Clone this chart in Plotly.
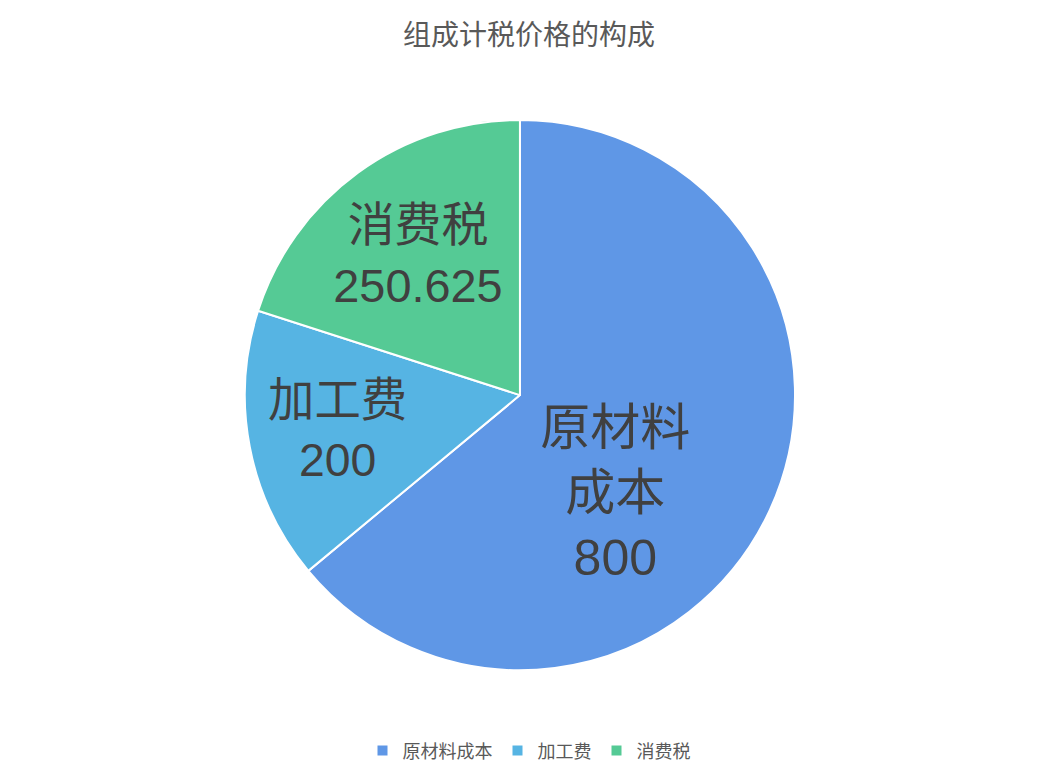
import plotly.graph_objects as go

categories = ["原材料成本", "加工费", "消费税"]
label_text = [" <br> <br> <br>原材料<br>成本", "加工费", "消费税"]
values = [800, 200, 250.625]
value_text = ["800", "200", "250.625"]
colors = ["#5F97E6", "#56B4E3", "#55CA95"]

fig = go.Figure(go.Pie(
    labels=categories,
    values=values,
    customdata=[[l, v] for l, v in zip(label_text, value_text)],
    texttemplate="%{customdata[0]}<br>%{customdata[1]}",
    textposition="inside",
    insidetextorientation="horizontal",
    textfont=dict(size=50, color="#404040"),
    marker=dict(colors=colors, line=dict(color="white", width=2)),
    sort=False,
    direction="clockwise",
    rotation=0,
    hoverinfo="label+value",
    domain=dict(x=[0.2273, 0.7553], y=[0.153, 0.857]),
))

fig.update_layout(
    width=1042, height=782,
    paper_bgcolor="white", plot_bgcolor="white",
    font=dict(family="Liberation Sans, Noto Sans CJK SC, sans-serif", color="#595959"),
    title=dict(text="组成计税价格的构成", x=0.5, xanchor="center", y=0.965, yanchor="middle",
               font=dict(size=28, color="#595959")),
    margin=dict(l=0, r=0, t=0, b=0),
    legend=dict(orientation="h", x=0.5, xanchor="center", y=0.05, yanchor="middle",
                font=dict(size=18, color="#595959"), itemwidth=30, traceorder="normal"),
)

fig.write_html("out.html")
